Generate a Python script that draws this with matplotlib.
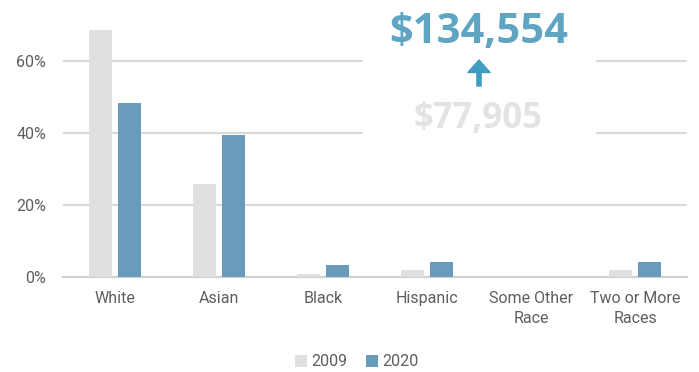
import matplotlib.pyplot as plt
import numpy as np
from matplotlib.patches import Rectangle

# share of group by race, 2009 vs 2020 (%)
races = ['White', 'Asian', 'Black', 'Hispanic', 'Some Other\nRace', 'Two or More\nRaces']
share_2009 = [68.6, 25.8, 0.8, 2.0, 0.0, 2.0]
share_2020 = [48.3, 39.4, 3.3, 4.1, 0.0, 4.1]
years = ['2009', '2020']
income_old = '$77,905'
income_new = '$134,554'

gray = '#e0e0e0'
blue = '#6a9bba'
text_col = '#5e5e5e'

fig = plt.figure(figsize=(6.99, 3.72), dpi=100)
ax = fig.add_axes([63/699, 95/372, 624/699, 288/372])

x = np.arange(len(races))
w = 0.22
off = 0.14
b1 = ax.bar(x - off, share_2009, w, color=gray, zorder=3, label=years[0])
b2 = ax.bar(x + off, share_2020, w, color=blue, zorder=3, label=years[1])

ax.set_xlim(-0.5, len(races) - 0.5)
ax.set_ylim(0, 80)
ax.set_yticks([0, 20, 40, 60, 80])
ax.set_yticklabels(['0%', '20%', '40%', '60%', '80%'])
ax.set_xticks(x)
ax.set_xticklabels(races)
ax.yaxis.grid(True, color='#d9d9d9', linewidth=1.5, zorder=0)
ax.set_axisbelow(True)
for s in ['top', 'right', 'left']:
    ax.spines[s].set_visible(False)
ax.spines['bottom'].set_color('#d0d0d0')
ax.spines['bottom'].set_linewidth(1.5)
ax.tick_params(length=0, labelsize=11.5, labelcolor=text_col)
ax.tick_params(axis='y', pad=12)
ax.tick_params(axis='x', pad=10)
for lab in ax.get_xticklabels() + ax.get_yticklabels():
    lab.set_fontfamily('Roboto')
    lab.set_linespacing(1.45)

# white panel behind the income callout
ax.add_patch(Rectangle((2.385, 35), 2.24, 50, facecolor='white', edgecolor='none', zorder=2))

fig.text(479/699, 1 - 32/372, income_new, ha='center', va='center', fontsize=30,
         fontweight='bold', family='Open Sans', color='#5fa5c2')
fig.text(478/699, 1 - 119/372, income_old, ha='center', va='center', fontsize=25,
         fontweight='bold', family='Open Sans', color='#e3e3e3')
ax.annotate('', xy=(479/699, 1 - 60/372), xytext=(479/699, 1 - 86/372),
            xycoords='figure fraction', textcoords='figure fraction',
            arrowprops=dict(arrowstyle='simple,head_length=0.9,head_width=1.6,tail_width=0.3',
                            color='#3f9dc0', shrinkA=0, shrinkB=0))

fig.legend(handles=[b1, b2], loc='center', bbox_to_anchor=(357/699, 1 - 362/372),
           ncol=2, frameon=False, handlelength=0.7, handleheight=0.7,
           handletextpad=0.3, columnspacing=1.2,
           prop={'family': 'Roboto', 'size': 11.5}, labelcolor=text_col)

plt.savefig('out.png', dpi=100)
